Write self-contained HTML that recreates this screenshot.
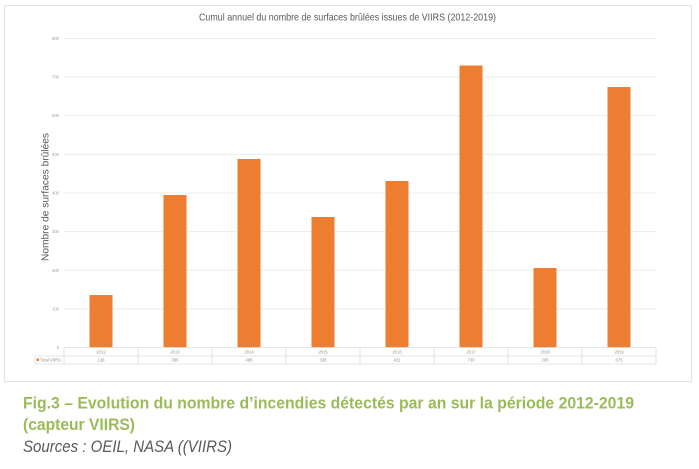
<!DOCTYPE html>
<html><head><meta charset="utf-8"><style>
html,body{margin:0;padding:0;background:#fff;}
svg{display:block;}
</style></head><body>
<svg width="699" height="469" viewBox="0 0 699 469" xmlns="http://www.w3.org/2000/svg" font-family="Liberation Sans, sans-serif">
<rect x="0" y="0" width="699" height="469" fill="#fff"/>
<rect x="4.5" y="5.5" width="687" height="376" fill="#fff" stroke="#e3e3e3" stroke-width="1"/>
<text x="199" y="20.5" font-size="10.5" fill="#595959" textLength="297" lengthAdjust="spacingAndGlyphs">Cumul annuel du nombre de surfaces brûlées issues de VIIRS (2012-2019)</text>
<g stroke="#ececec" stroke-width="1">
<line x1="64" x2="656" y1="38.5" y2="38.5"/>
<line x1="64" x2="656" y1="77.1" y2="77.1"/>
<line x1="64" x2="656" y1="115.7" y2="115.7"/>
<line x1="64" x2="656" y1="154.4" y2="154.4"/>
<line x1="64" x2="656" y1="193" y2="193"/>
<line x1="64" x2="656" y1="231.6" y2="231.6"/>
<line x1="64" x2="656" y1="270.3" y2="270.3"/>
<line x1="64" x2="656" y1="308.9" y2="308.9"/>
</g>
<g font-size="4.2" fill="#a0a0a0" text-anchor="end">
<text x="59" y="40">800</text>
<text x="59" y="78.6">700</text>
<text x="59" y="117.2">600</text>
<text x="59" y="155.9">500</text>
<text x="59" y="194.5">400</text>
<text x="59" y="233.1">300</text>
<text x="59" y="271.8">200</text>
<text x="59" y="310.4">100</text>
<text x="59" y="349">0</text>
</g>
<text transform="translate(48.5,197) rotate(-90)" font-size="10.5" fill="#595959" text-anchor="middle" textLength="128" lengthAdjust="spacingAndGlyphs">Nombre de surfaces brûlées</text>
<g fill="#ED7D31">
<rect x="89.5" y="295" width="23" height="52.5"/>
<rect x="163.5" y="195" width="23" height="152.5"/>
<rect x="237.5" y="159" width="23" height="188.5"/>
<rect x="311.5" y="217" width="23" height="130.5"/>
<rect x="385.5" y="181" width="23" height="166.5"/>
<rect x="459.5" y="65.5" width="23" height="282"/>
<rect x="533.5" y="268" width="23" height="79.5"/>
<rect x="607.5" y="87" width="23" height="260.5"/>
</g>
<g stroke="#dcdcdc" stroke-width="0.8" fill="none">
<line x1="64" x2="656" y1="347.5" y2="347.5"/>
<line x1="35" x2="656" y1="356" y2="356"/>
<line x1="35" x2="656" y1="364" y2="364"/>
<line x1="35" x2="35" y1="356" y2="364"/>
<line x1="64" x2="64" y1="347.5" y2="364"/>
<line x1="138" x2="138" y1="347.5" y2="364"/>
<line x1="212" x2="212" y1="347.5" y2="364"/>
<line x1="286" x2="286" y1="347.5" y2="364"/>
<line x1="360" x2="360" y1="347.5" y2="364"/>
<line x1="434" x2="434" y1="347.5" y2="364"/>
<line x1="508" x2="508" y1="347.5" y2="364"/>
<line x1="582" x2="582" y1="347.5" y2="364"/>
<line x1="656" x2="656" y1="347.5" y2="364"/>
</g>
<g font-size="4.2" fill="#909090" text-anchor="middle">
<text x="101" y="353.5">2012</text>
<text x="175" y="353.5">2013</text>
<text x="249" y="353.5">2014</text>
<text x="323" y="353.5">2015</text>
<text x="397" y="353.5">2016</text>
<text x="471" y="353.5">2017</text>
<text x="545" y="353.5">2018</text>
<text x="619" y="353.5">2019</text>
<text x="101" y="361.5">136</text>
<text x="175" y="361.5">395</text>
<text x="249" y="361.5">488</text>
<text x="323" y="361.5">338</text>
<text x="397" y="361.5">431</text>
<text x="471" y="361.5">730</text>
<text x="545" y="361.5">206</text>
<text x="619" y="361.5">675</text>
</g>
<rect x="36.5" y="358.5" width="2.5" height="2.5" fill="#ED7D31"/>
<text x="40" y="361.5" font-size="4.2" fill="#909090">Total VIIRS</text>
<text x="23" y="408.5" font-size="16.5" font-weight="bold" fill="#9BBB59" textLength="611" lengthAdjust="spacingAndGlyphs">Fig.3 – Evolution du nombre d’incendies détectés par an sur la période 2012-2019</text>
<text x="23" y="430" font-size="16.5" font-weight="bold" fill="#9BBB59" textLength="112" lengthAdjust="spacingAndGlyphs">(capteur VIIRS)</text>
<text x="23" y="452" font-size="16.5" font-style="italic" fill="#595959" textLength="209" lengthAdjust="spacingAndGlyphs">Sources : OEIL, NASA ((VIIRS)</text>
</svg>
</body></html>
